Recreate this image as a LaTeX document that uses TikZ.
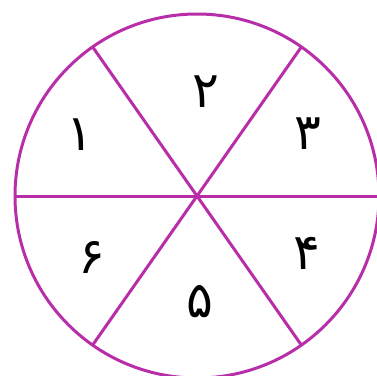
\documentclass[tikz,border=0pt]{standalone}
\usepackage{fontspec}
\usepackage{tikz}
\usetikzlibrary{positioning,calc}
\newfontfamily\digitfont[Script=Arabic]{DejaVu Sans}
\definecolor{wheelpurple}{RGB}{184,46,168}

\begin{document}
\begin{tikzpicture}[
    x=1pt, y=-1pt,
    wheel/.style={draw=wheelpurple, line width=3pt},
    digit/.style={font=\digitfont\fontsize{50}{52}\selectfont, inner sep=0pt},
]
\useasboundingbox (0,0) rectangle (377,375);
\coordinate (c) at (197,196);
% rim and spokes
\draw[wheel] (c) circle[radius=182];
\draw[wheel] (c) -- ++(180:182) (c) -- ++(0:182);
\draw[wheel] (c) -- ++(55:182) (c) -- ++(-55:182);
\draw[wheel] (c) -- ++(125:182) (c) -- ++(-125:182);
% sector numbers
\node[digit] (n1) at (80,135) {۱};
\node[digit] (n2) at (206,92) {۲};
\node[digit] (n3) at (308,134) {۳};
\node[digit] (n4) at (307,253) {۴};
\node[digit] (n5) at (200,302) {۵};
\node[digit] (n6) at (92,257) {۶};
\end{tikzpicture}
\end{document}
